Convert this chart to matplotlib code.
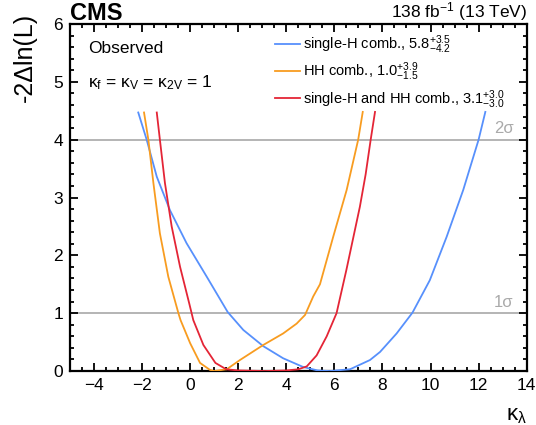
import numpy as np
import matplotlib
matplotlib.use('Agg')
import matplotlib.pyplot as plt
from matplotlib.ticker import MultipleLocator

plt.rcParams['font.family'] = ['Liberation Sans', 'DejaVu Sans']
plt.rcParams['mathtext.fontset'] = 'custom'
plt.rcParams['mathtext.rm'] = 'Liberation Sans'
plt.rcParams['mathtext.it'] = 'Liberation Sans:italic'
plt.rcParams['mathtext.bf'] = 'Liberation Sans:bold'

# scan points (kappa_lambda, -2 dlnL)
kl_single = [-2.16, -1.81, -1.39, -0.84, -0.15, 0.69, 1.56, 2.21, 3.04, 3.87, 4.70,
             5.30, 5.80, 6.65, 7.48, 7.90, 8.59, 9.25, 9.97, 10.67, 11.36, 12.00, 12.28]
nll_single = [4.47, 4.00, 3.36, 2.78, 2.21, 1.63, 1.02, 0.71, 0.43, 0.22, 0.07,
              0.01, 0.00, 0.03, 0.19, 0.33, 0.65, 1.01, 1.57, 2.32, 3.13, 4.00, 4.48]

kl_hh = [-1.92, -1.74, -1.53, -1.26, -0.91, -0.49, -0.40, 0.00, 0.41, 0.82, 1.00, 1.52, 2.07,
         3.04, 3.87, 4.43, 4.78, 5.12, 5.40, 5.95, 6.51, 6.99, 7.18]
nll_hh = [4.47, 4.00, 3.25, 2.38, 1.63, 1.00, 0.88, 0.48, 0.14, 0.02, 0.00, 0.03, 0.19,
          0.45, 0.65, 0.82, 0.97, 1.29, 1.50, 2.32, 3.13, 4.00, 4.48]

kl_comb = [-1.39, -1.26, -1.05, -0.77, -0.42, -0.04, 0.06, 0.13, 0.55, 1.05, 1.50, 2.00, 3.10,
           4.00, 4.50, 4.85, 5.26, 5.68, 6.09, 6.50, 7.06, 7.30, 7.51, 7.69]
nll_comb = [4.47, 4.00, 3.25, 2.50, 1.80, 1.17, 1.00, 0.88, 0.45, 0.14, 0.03, 0.01, 0.00,
            0.01, 0.03, 0.08, 0.27, 0.60, 1.00, 1.75, 2.84, 3.40, 4.00, 4.48]

labels = [r'single-H comb., $\mathregular{5.8^{+3.5}_{-4.2}}$',
          r'HH comb., $\mathregular{1.0^{+3.9}_{-1.5}}$',
          r'single-H and HH comb., $\mathregular{3.1^{+3.0}_{-3.0}}$']
colors = ['#5790fc', '#f89c20', '#e42536']

sigma_levels = [1, 4]
sigma_labels = ['1σ', '2σ']

fig = plt.figure(figsize=(5.36, 4.25), dpi=100)
ax = fig.add_axes([0.1306, 0.127, 0.852, 0.8165])

for lvl in sigma_levels:
    ax.axhline(lvl, color='#a8a8a8', lw=1.2, zorder=1)
for lvl, lab in zip(sigma_levels, sigma_labels):
    ax.text(13.45, lvl + 0.06, lab, color='#aaaaaa', fontsize=12, ha='right', va='bottom')

ax.plot(kl_single, nll_single, color=colors[0], lw=1.3, label=labels[0], zorder=3)
ax.plot(kl_hh, nll_hh, color=colors[1], lw=1.3, label=labels[1], zorder=3)
ax.plot(kl_comb, nll_comb, color=colors[2], lw=1.3, label=labels[2], zorder=3)

ax.set_xlim(-5, 14)
ax.set_ylim(0, 6)
xt = np.arange(-4, 15, 2)
ax.set_xticks(xt)
ax.set_xticklabels([str(v).replace('-', '\u2212') for v in xt])
ax.xaxis.set_minor_locator(MultipleLocator(0.5))
ax.yaxis.set_major_locator(MultipleLocator(1))
ax.yaxis.set_minor_locator(MultipleLocator(0.2))
ax.tick_params(which='both', direction='in', top=True, right=True, width=1.3)
ax.tick_params(which='major', length=6, labelsize=12.5, pad=5)
ax.tick_params(which='minor', length=3)
for s in ax.spines.values():
    s.set_linewidth(1.6)

ax.set_ylabel('-2Δln(L)', fontsize=18, loc='top')
ax.yaxis.set_label_coords(-0.072, 1.032)
ax.set_xlabel(r'κ$_{\mathregular{λ}}$', fontsize=16, loc='right')
ax.xaxis.set_label_coords(1.0, -0.098)

leg = ax.legend(loc='upper left', bbox_to_anchor=(0.449, 0.972), frameon=False, fontsize=10.5,
                handlelength=1.7, handletextpad=0.2, labelspacing=0.31, borderaxespad=0,
                borderpad=0)

ax.text(0.04, 0.93, 'Observed', transform=ax.transAxes, fontsize=12.5, va='center')
ax.text(0.04, 0.83, r'κ$_\mathregular{f}$ = κ$_\mathregular{V}$ = κ$_\mathregular{2V}$ = 1',
        transform=ax.transAxes, fontsize=12.5, va='center')

ax.text(0.0, 0.998, 'CMS', transform=ax.transAxes, fontsize=17, fontweight='bold',
        ha='left', va='bottom')
ax.text(1.0, 1.003, r'138 fb$^{\mathregular{-1}}$ (13 TeV)', transform=ax.transAxes,
        fontsize=12.5, ha='right', va='bottom')

fig.savefig('out.png', dpi=100)
